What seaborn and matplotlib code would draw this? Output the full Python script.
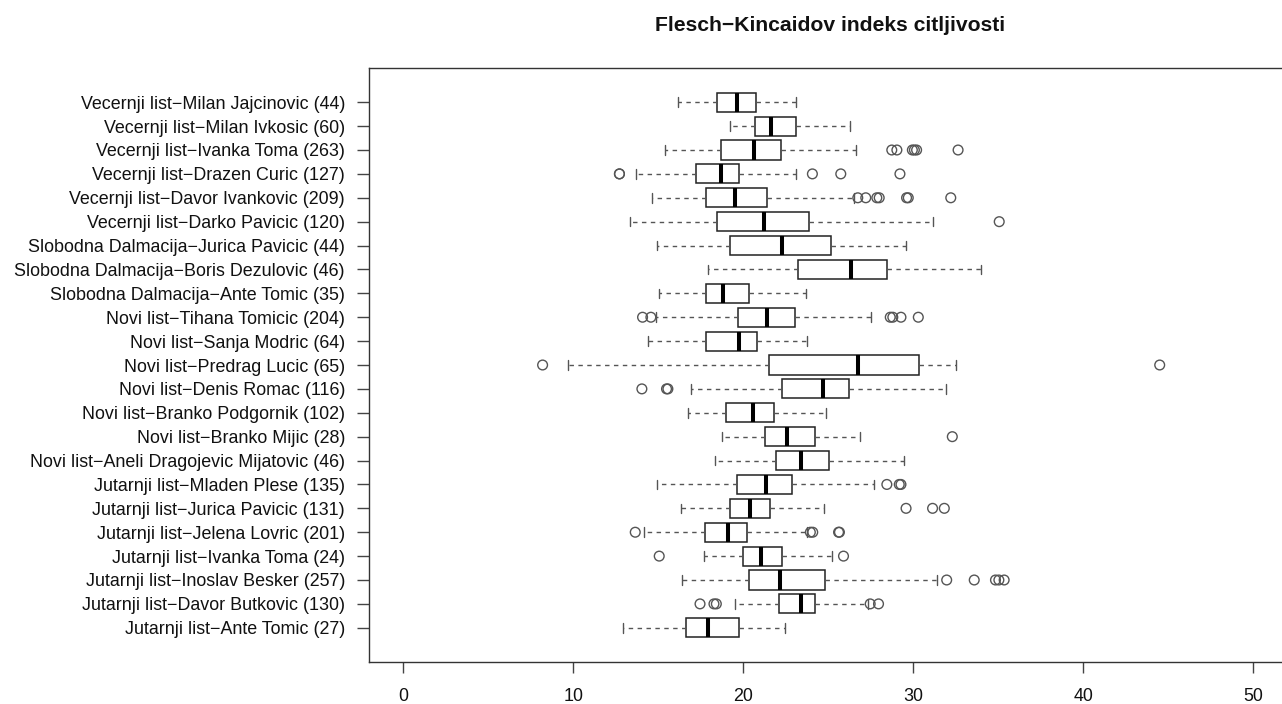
import numpy as np
import pandas as pd
import seaborn as sns
import matplotlib
matplotlib.use("Agg")
import matplotlib.pyplot as plt

# ---- data (top row first) ----
labels = [
    "Vecernji list\u2212Milan Jajcinovic (44)",
    "Vecernji list\u2212Milan Ivkosic (60)",
    "Vecernji list\u2212Ivanka Toma (263)",
    "Vecernji list\u2212Drazen Curic (127)",
    "Vecernji list\u2212Davor Ivankovic (209)",
    "Vecernji list\u2212Darko Pavicic (120)",
    "Slobodna Dalmacija\u2212Jurica Pavicic (44)",
    "Slobodna Dalmacija\u2212Boris Dezulovic (46)",
    "Slobodna Dalmacija\u2212Ante Tomic (35)",
    "Novi list\u2212Tihana Tomicic (204)",
    "Novi list\u2212Sanja Modric (64)",
    "Novi list\u2212Predrag Lucic (65)",
    "Novi list\u2212Denis Romac (116)",
    "Novi list\u2212Branko Podgornik (102)",
    "Novi list\u2212Branko Mijic (28)",
    "Novi list\u2212Aneli Dragojevic Mijatovic (46)",
    "Jutarnji list\u2212Mladen Plese (135)",
    "Jutarnji list\u2212Jurica Pavicic (131)",
    "Jutarnji list\u2212Jelena Lovric (201)",
    "Jutarnji list\u2212Ivanka Toma (24)",
    "Jutarnji list\u2212Inoslav Besker (257)",
    "Jutarnji list\u2212Davor Butkovic (130)",
    "Jutarnji list\u2212Ante Tomic (27)",
]

whisk_lo = [16.17, 19.23, 15.39, 13.72, 14.63, 13.37, 14.94, 17.93, 15.04, 14.86, 14.41, 9.68,
            16.91, 16.75, 18.73, 18.32, 14.94, 16.32, 14.18, 17.69, 16.38, 19.49, 12.94]
q1 = [18.48, 20.67, 18.71, 17.24, 17.83, 18.48, 19.20, 23.22, 17.83, 19.70, 17.83, 21.51,
      22.29, 19.01, 21.31, 21.94, 19.61, 19.20, 17.73, 19.98, 20.33, 22.10, 16.66]
median = [19.64, 21.64, 20.63, 18.68, 19.49, 21.25, 22.29, 26.35, 18.81, 21.41, 19.74, 26.78,
          24.67, 20.57, 22.60, 23.42, 21.35, 20.39, 19.10, 21.06, 22.14, 23.38, 17.93]
q3 = [20.73, 23.10, 22.23, 19.78, 21.41, 23.89, 25.18, 28.45, 20.33, 23.07, 20.82, 30.36,
      26.25, 21.84, 24.20, 25.03, 22.87, 21.55, 20.23, 22.29, 24.79, 24.20, 19.74]
whisk_hi = [23.10, 26.31, 26.62, 23.10, 26.49, 31.18, 29.56, 33.96, 23.71, 27.53, 23.75, 32.52,
            31.91, 24.87, 26.90, 29.48, 27.72, 24.73, 23.75, 25.22, 31.42, 27.37, 22.48]
outliers = [
    [],
    [],
    [28.74, 29.04, 29.95, 30.07, 30.20, 32.64],
    [12.72, 12.72, 24.07, 25.74, 29.22],
    [26.74, 27.21, 27.86, 28.00, 29.61, 29.71, 32.21],
    [35.06],
    [],
    [],
    [],
    [14.08, 14.57, 28.65, 28.80, 29.28, 30.30],
    [],
    [8.20, 44.50],
    [14.04, 15.49, 15.57],
    [],
    [32.30],
    [],
    [28.45, 29.18, 29.28],
    [29.58, 31.14, 31.83],
    [13.65, 23.95, 24.09, 25.61, 25.66],
    [15.06, 25.90],
    [31.97, 33.59, 34.84, 35.04, 35.35],
    [17.46, 18.28, 18.42, 27.47, 27.96],
    [],
]
x_ticks = [0, 10, 20, 30, 40, 50]
title = "Flesch\u2212Kincaidov indeks citljivosti"

# ---- tables for seaborn ----
box_rows = []
for lab, a, b, c, d, e in zip(labels, whisk_lo, q1, median, q3, whisk_hi):
    for v in (a, b, c, d, e):
        box_rows.append((lab, v))
box_df = pd.DataFrame(box_rows, columns=["author", "fk"])

out_rows = [(lab, v) for lab, vals in zip(labels, outliers) for v in vals]
out_df = pd.DataFrame(out_rows, columns=["author", "fk"])

# ---- figure ----
sns.set_style("white")
plt.rcParams["font.family"] = ["Liberation Sans", "DejaVu Sans"]

W, H = 1282, 704
fig = plt.figure(figsize=(W / 100, H / 100), dpi=100)
ax = fig.add_axes([369.2 / W, (H - 661.7) / H, 918.0 / W, (661.7 - 68.3) / H])

sns.boxplot(
    data=box_df, x="fk", y="author", order=labels, orient="y",
    whis=(0, 100), width=0.8, color="white", linecolor="#222222",
    linewidth=1.1, showfliers=False,
    medianprops=dict(color="black", linewidth=2.9),
    whiskerprops=dict(color="#555555", linestyle=(0, (3.2, 3.2)), linewidth=1.0),
    capprops=dict(color="#555555", linewidth=1.0),
    ax=ax,
)
sns.stripplot(
    data=out_df, x="fk", y="author", order=labels, orient="y",
    jitter=False, size=7, color="white", edgecolor="#555555", linewidth=1.0,
    ax=ax,
)
for coll in ax.collections:
    coll.set_facecolor("none")

ax.set_xlim(-2, 52)
ax.set_ylim(len(labels) - 1 + 1.42, -1.42)
ax.set_xticks(x_ticks)
ax.set_xticklabels([str(t) for t in x_ticks])
ax.set_xlabel("")
ax.set_ylabel("")

for s in ax.spines.values():
    s.set_visible(True)
    s.set_color("#333333")
    s.set_linewidth(1.0)
ax.spines["right"].set_visible(False)

ax.tick_params(axis="x", length=8, width=1, color="#444444", labelsize=12.9,
               pad=11, labelcolor="#111111", direction="out", bottom=True)
ax.tick_params(axis="y", length=9, width=1, color="#444444", labelsize=12.9,
               pad=8.5, labelcolor="#111111", direction="out", left=True)

fig.text(829.6 / W, 1 - 31 / H, title, ha="center", va="baseline",
         fontsize=15.2, fontweight="bold", color="#111111")

fig.savefig("out.png", dpi=100)
